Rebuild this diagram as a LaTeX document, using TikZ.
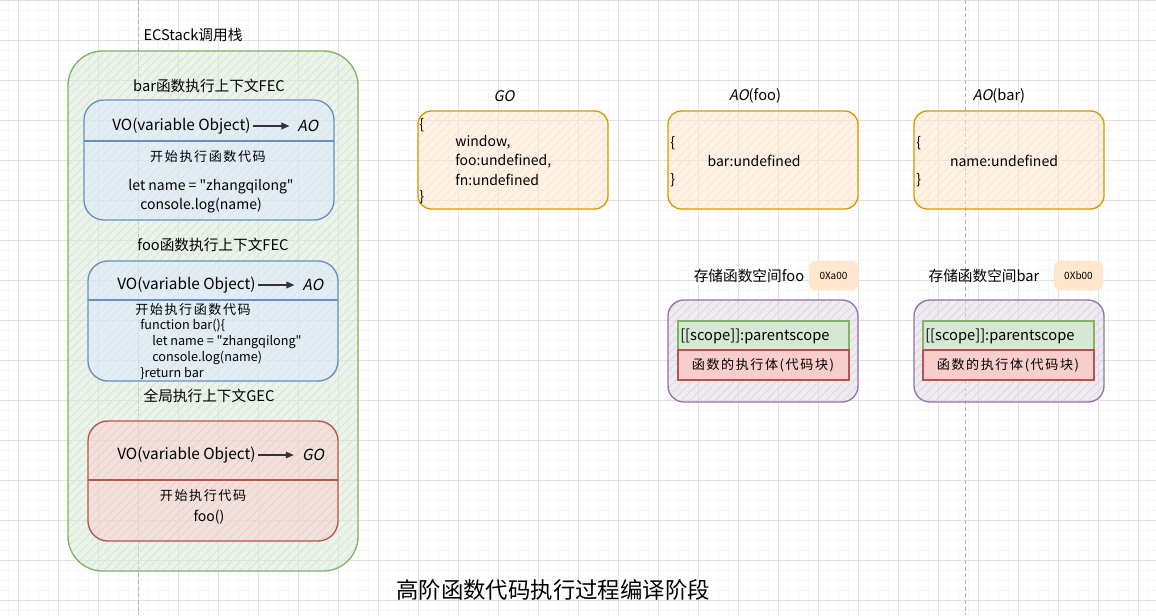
\documentclass[tikz,border=0pt]{standalone}
\usepackage{fontspec}
\setmainfont{Noto Sans CJK SC}
\newfontfamily\slfont[FakeSlant=0.2]{Noto Sans CJK SC}
\newfontfamily\cjkwide[LetterSpace=12]{Noto Sans CJK SC}
\newfontfamily\plainf{Noto Sans CJK SC}
\usetikzlibrary{arrows.meta,patterns.meta}
\definecolor{gS}{HTML}{82B366}
\definecolor{gF}{HTML}{D5E8D4}
\definecolor{bS}{HTML}{6C8EBF}
\definecolor{bF}{HTML}{DAE8FC}
\definecolor{rS}{HTML}{B85450}
\definecolor{rF}{HTML}{F8CECC}
\definecolor{oS}{HTML}{D79B00}
\definecolor{oF}{HTML}{FFE6CC}
\definecolor{pS}{HTML}{9673A6}
\definecolor{pF}{HTML}{DDD8E2}
\definecolor{majg}{HTML}{E2E2E2}
\definecolor{ming}{HTML}{F6F6F6}
\definecolor{arr}{HTML}{333333}
\tikzset{
  hbox/.style 2 args={preaction={fill=#2, fill opacity=0.45},
    preaction={pattern={Lines[angle=45,distance=4.5pt,line width=0.7pt]}, pattern color=#2},
    draw=#1, line width=1pt},
  lbl/.style={font=\fontsize{11}{12}\selectfont},
  hdr/.style={font=\fontsize{11.5}{13}\selectfont},
  code/.style={font=\fontsize{10.5}{12}\selectfont},
  codes/.style={font=\fontsize{9.5}{11}\selectfont},
  cn/.style={font=\cjkwide\fontsize{9.8}{11}\selectfont},
  tiny/.style={font=\fontsize{7.5}{8}\selectfont},
  varrow/.style={draw=arr, line width=1pt, -{Triangle[length=6pt,width=5pt]}, shorten <=2pt, shorten >=6pt},
}
\begin{document}
\begin{tikzpicture}[x=0.75pt,y=-0.75pt, every node/.style={inner sep=0pt, text=black}]
\useasboundingbox (0,0) rectangle (1156,615);
\fill[white] (0,0) rectangle (1156,615);
% grid
\foreach \i in {0,...,115} { \draw[ming, line width=0.5pt] ({8.5+10*\i},0) -- ({8.5+10*\i},615); }
\foreach \i in {0,...,61} { \draw[ming, line width=0.5pt] (0,{10*\i}) -- (1156,{10*\i}); }
\foreach \i in {0,...,28} { \draw[majg, line width=0.7pt] ({18.5+40*\i},0) -- ({18.5+40*\i},615); }
\foreach \i in {0,...,15} { \draw[majg, line width=0.7pt] (0,{40*\i}) -- (1156,{40*\i}); }
\draw[gray!60, line width=0.6pt, dash pattern=on 3pt off 2pt] (138,0) -- (138,615);
\draw[gray!60, line width=0.6pt, dash pattern=on 3pt off 2pt] (965,0) -- (965,615);

% ECStack
\node[lbl] (ectitle) at (193,35) {ECStack调用栈};
\path[hbox={gS}{gF}, rounded corners=26pt] (68,51) rectangle (358,571);

% bar FEC
\node[lbl] (barfec) at (209,86) {bar函数执行上下文FEC};
\path[hbox={bS}{bF}, rounded corners=15pt] (84,100) rectangle (334,220);
\draw[bS, line width=0.8pt] (84,141) -- (334,141);
\node[hdr, anchor=west] (vo1) at (112,126) {VO(variable Object)};
\node[hdr] (ao1) at (308,126) {\slfont AO};
\draw[varrow] (vo1.east) -- (ao1.west);
\node[cn] (b1a) at (208,157) {开始执行函数代码};
\node[code] (b1b) at (211,187) {\plainf let name = "zhangqilong"};
\node[code] (b1c) at (201,206) {console.log(name)};

% foo FEC
\node[lbl] (foofec) at (213,245) {foo函数执行上下文FEC};
\path[hbox={bS}{bF}, rounded corners=15pt] (88,261) rectangle (338,381);
\draw[bS, line width=0.8pt] (88,300) -- (338,300);
\node[hdr, anchor=west] (vo2) at (117,285) {VO(variable Object)};
\node[hdr] (ao2) at (313,285) {\slfont AO};
\draw[varrow] (vo2.east) -- (ao2.west);
\node[cn, anchor=west] (f1) at (135,310) {开始执行函数代码};
\node[codes, anchor=west] (f2) at (140,326) {function bar()\{};
\node[codes, anchor=west] (f3) at (152,342) {\plainf let name = "zhangqilong"};
\node[codes, anchor=west] (f4) at (152,358) {console.log(name)};
\node[codes, anchor=west] (f5) at (140,374) {\}return bar};

% GEC
\node[lbl] (gec) at (209,396) {全局执行上下文GEC};
\path[hbox={rS}{rF}, rounded corners=15pt] (88,421) rectangle (338,541);
\draw[rS, line width=0.8pt] (88,480) -- (338,480);
\node[hdr, anchor=west] (vo3) at (117,455) {VO(variable Object)};
\node[hdr] (go3) at (313,455) {\slfont GO};
\draw[varrow] (vo3.east) -- (go3.west);
\node[cn] (g1) at (203,496) {开始执行代码};
\node[code] (g2) at (209,517) {foo()};

% GO
\node[lbl] (golbl) at (504,96) {\slfont GO};
\path[hbox={oS}{oF}, rounded corners=10pt] (418,111) rectangle (608,209);
\node[code, anchor=west] (go_l) at (419,125) {\{};
\node[code, anchor=west] (go_w) at (455,142) {window,};
\node[code, anchor=west] (go_f) at (455,161) {foo:undefined,};
\node[code, anchor=west] (go_n) at (455,180) {fn:undefined};
\node[code, anchor=west] (go_r) at (419,197) {\}};

% AO(foo)
\node[lbl] (aofoolbl) at (755,96) {{\slfont AO}(foo)};
\path[hbox={oS}{oF}, rounded corners=10pt] (668,111) rectangle (858,209);
\node[code, anchor=west] (af_l) at (670,143) {\{};
\node[code] (af_b) at (754,161) {bar:undefined};
\node[code, anchor=west] (af_r) at (670,180) {\}};

% AO(bar)
\node[lbl] (aobarlbl) at (999,96) {{\slfont AO}(bar)};
\path[hbox={oS}{oF}, rounded corners=10pt] (914,111) rectangle (1104,209);
\node[code, anchor=west] (ab_l) at (916,143) {\{};
\node[code] (ab_n) at (1004,161) {name:undefined};
\node[code, anchor=west] (ab_r) at (916,180) {\}};

% storage foo
\node[lbl] (stfoo) at (749,276) {存储函数空间foo};
\fill[oF, rounded corners=4pt] (809,261) rectangle (858,290);
\node[tiny] (addrfoo) at (833.5,275.5) {0Xa00};
\path[hbox={pS}{pF}, rounded corners=12pt] (668,300) rectangle (858,402);
\draw[gS, fill=gF, line width=0.8pt] (678,321) rectangle (849,350);
\draw[rS, fill=rF, line width=0.8pt] (678,350) rectangle (849,380);
\node[code, font=\fontsize{11}{12}\selectfont, anchor=west] (scfoo) at (680,336) {[[scope]]:parentscope};
\node[cn] (bodyfoo) at (763,365) {函数的执行体(代码块)};

% storage bar
\node[lbl] (stbar) at (984,276) {存储函数空间bar};
\fill[oF, rounded corners=4pt] (1054,261) rectangle (1103,290);
\node[tiny] (addrbar) at (1078.5,275.5) {0Xb00};
\path[hbox={pS}{pF}, rounded corners=12pt] (914,300) rectangle (1104,402);
\draw[gS, fill=gF, line width=0.8pt] (923,321) rectangle (1094,350);
\draw[rS, fill=rF, line width=0.8pt] (923,350) rectangle (1094,380);
\node[code, font=\fontsize{11}{12}\selectfont, anchor=west] (scbar) at (925,336) {[[scope]]:parentscope};
\node[cn] (bodybar) at (1008,365) {函数的执行体(代码块)};

% title
\node[font=\fontsize{16.8}{18}\selectfont] (title) at (553,590) {高阶函数代码执行过程编译阶段};
\end{tikzpicture}
\end{document}
